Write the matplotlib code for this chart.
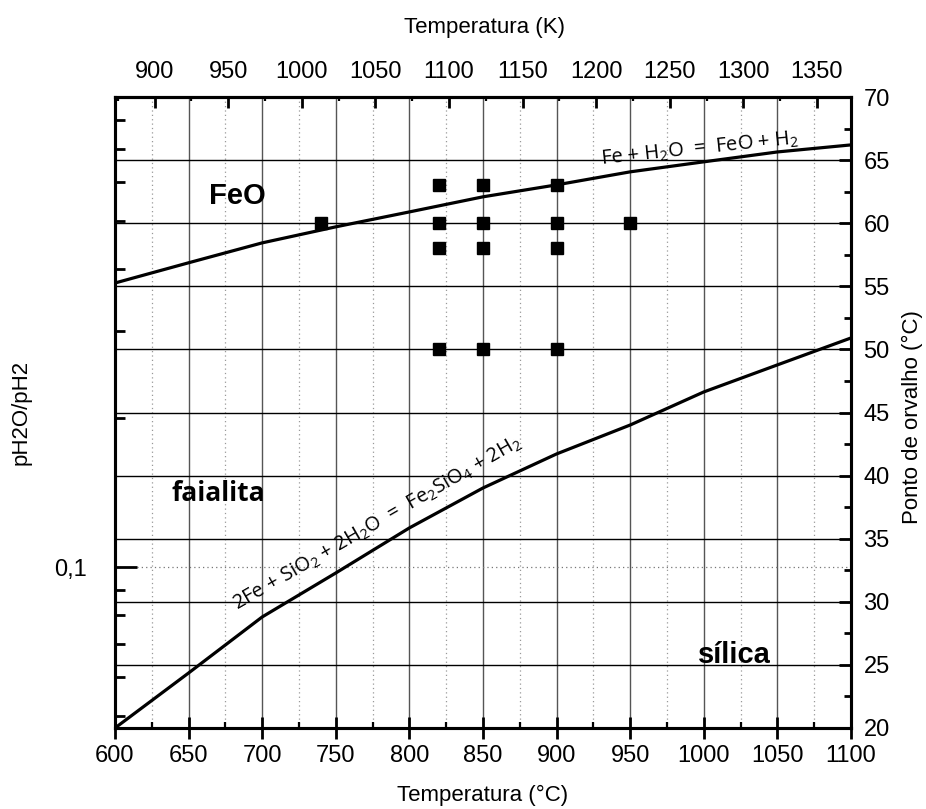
import numpy as np
import matplotlib
matplotlib.use('Agg')
import matplotlib.pyplot as plt
from matplotlib import ticker

plt.rcParams['font.family'] = ['Liberation Sans', 'DejaVu Sans']
plt.rcParams['mathtext.fontset'] = 'custom'
plt.rcParams['mathtext.rm'] = 'Open Sans'
plt.rcParams['mathtext.it'] = 'Open Sans:italic'

# equilibrium curves, temperature (C) vs pH2O/pH2
temp_c = [600, 650, 700, 750, 800, 850, 900, 950, 1000, 1050, 1100]
feo_ratio = [0.375, 0.412, 0.452, 0.487, 0.522, 0.560, 0.592, 0.629, 0.659, 0.690, 0.713]
fay_ratio = [0.0473, 0.0611, 0.0793, 0.0973, 0.120, 0.1445, 0.1693, 0.1937, 0.2259, 0.2562, 0.2904]

# experimental conditions: temperature (C) and dew point (C)
exp_temp = [740, 820, 820, 820, 820, 850, 850, 850, 850, 900, 900, 900, 900, 950]
exp_dew = [60, 63, 60, 58, 50, 63, 60, 58, 50, 63, 60, 58, 50, 60]

fig = plt.figure(figsize=(9.26, 8.09), dpi=100)
ax = fig.add_axes([115/926, 1-728/809, 736/926, 631/809])

ax.plot(temp_c, feo_ratio, color='black', lw=2.3, zorder=3)
ax.plot(temp_c, fay_ratio, color='black', lw=2.3, zorder=3)

ax.set_xlim(600, 1100)
ax.set_yscale('log')
ax.set_ylim(0.0473, 0.891)

ax.xaxis.set_major_locator(ticker.MultipleLocator(50))
ax.xaxis.set_minor_locator(ticker.MultipleLocator(25))
ax.yaxis.set_major_locator(ticker.LogLocator(base=10))
ax.yaxis.set_minor_locator(ticker.LogLocator(base=10, subs=np.arange(2, 10)))
ax.yaxis.set_major_formatter(ticker.FuncFormatter(lambda v, p: f'{v:g}'.replace('.', ',')))
ax.yaxis.set_minor_formatter(ticker.NullFormatter())

ax.grid(True, axis='x', which='major', color='#555555', lw=1.0)
ax.grid(True, axis='x', which='minor', color='#999999', lw=0.9, ls=(0, (1, 2.5)))
ax.grid(True, axis='y', which='major', color='#777777', lw=0.9, ls=(0, (1, 2.5)))
ax.set_axisbelow(True)

ax.tick_params(axis='x', which='major', direction='inout', length=16, width=2, labelsize=17, pad=4, top=False)
ax.tick_params(axis='x', which='minor', direction='in', length=4, width=1.6, top=False)
ax.tick_params(axis='y', which='major', direction='in', length=16, width=2, labelsize=17, pad=20, right=False)
ax.tick_params(axis='y', which='minor', direction='in', length=7, width=2, right=False)
for s in ax.spines.values():
    s.set_linewidth(2.2)

# dew point axis on the right
ax2 = ax.twinx()
ax2.set_ylim(20, 70)
ax2.yaxis.set_major_locator(ticker.MultipleLocator(5))
ax2.yaxis.set_minor_locator(ticker.MultipleLocator(2.5))
ax2.grid(True, axis='y', which='major', color='black', lw=1.0)
ax2.tick_params(axis='y', which='major', direction='in', length=9, width=2, labelsize=17, pad=9)
ax2.tick_params(axis='y', which='minor', direction='in', length=5, width=2)
for s in ax2.spines.values():
    s.set_linewidth(2.2)
ax2.plot(exp_temp, exp_dew, ls='none', marker='s', ms=9, color='black', zorder=4)

# kelvin axis on top
axk = ax.secondary_xaxis('top', functions=(lambda c: c + 273.15, lambda k: k - 273.15))
axk.xaxis.set_major_locator(ticker.MultipleLocator(50))
axk.xaxis.set_minor_locator(ticker.MultipleLocator(25))
axk.tick_params(axis='x', which='major', direction='in', length=8, width=2, labelsize=17, pad=10)
axk.tick_params(axis='x', which='minor', direction='in', length=3, width=1.6)
axk.spines['top'].set_linewidth(2.2)

# region names
ax.text(0.166, 0.843, 'FeO', transform=ax.transAxes, fontsize=21, fontweight='bold',
        ha='center', va='center')
ax.text(0.141, 0.372, 'faialita', transform=ax.transAxes, fontsize=19, fontweight='bold',
        family='Open Sans', ha='center', va='center')
ax.text(0.842, 0.116, 'sílica', transform=ax.transAxes, fontsize=21, fontweight='bold',
        ha='center', va='center')

# reaction labels
ax.text(0.795, 0.918, r'Fe + H$_2$O  =  FeO + H$_2$', transform=ax.transAxes, fontsize=14.5,
        family='Open Sans', rotation=6, ha='center', va='center')
ax.text(0.357, 0.325, r'2Fe + SiO$_2$ + 2H$_2$O  =  Fe$_2$SiO$_4$ + 2H$_2$', transform=ax.transAxes,
        fontsize=14.5, family='Open Sans', rotation=30, ha='center', va='center')

fig.text(483/926, 1-795/809, 'Temperatura (°C)', fontsize=16, ha='center', va='center')
fig.text(485/926, 1-28/809, 'Temperatura (K)', fontsize=16, ha='center', va='center')
fig.text(21/926, 1-412/809, 'pH2O/pH2', fontsize=16, rotation=90, ha='center', va='center')
fig.text(912/926, 1-417/809, 'Ponto de orvalho (°C)', fontsize=16, rotation=90, ha='center', va='center')

fig.savefig('out.png', dpi=100)
